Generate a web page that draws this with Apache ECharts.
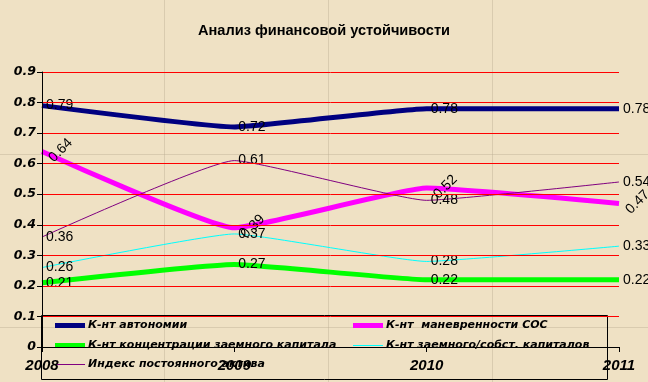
<!DOCTYPE html>
<html>
<head>
<meta charset="utf-8">
<script src="https://cdn.jsdelivr.net/npm/echarts@6/dist/echarts.min.js"></script>
<style>
html,body{margin:0;padding:0;background:#EFE1C4;}
#c{width:648px;height:382px;}
</style>
</head>
<body>
<div id="c"></div>
<script>
var years = ['2008', '2009', '2010', '2011'];
var yTicks = [0, 0.1, 0.2, 0.3, 0.4, 0.5, 0.6, 0.7, 0.8, 0.9];
var names = [
  'К-нт автономии',
  'К-нт  маневренности СОС',
  'К-нт концентрации заемного капитала',
  'К-нт заемного/собст. капиталов',
  'Индекс постоянного актива'
];
var autonomy = [0.79, 0.72, 0.78, 0.78];
var maneuver = [0.64, 0.39, 0.52, 0.47];
var concentration = [0.21, 0.27, 0.22, 0.22];
var debtEquity = [0.26, 0.37, 0.28, 0.33];
var fixedAssetIndex = [0.36, 0.61, 0.48, 0.54];

var colors = ['#000080', '#FF00FF', '#00FF00', '#00FFFF', '#800080'];
var widths = [5, 5, 5, 1, 1];
var datasets = [autonomy, maneuver, concentration, debtEquity, fixedAssetIndex];

var chart = echarts.init(document.getElementById('c'), null, {renderer: 'canvas'});

var series = datasets.map(function (d, i) {
  return {
    name: names[i],
    type: 'line',
    data: d,
    smooth: 0.12,
    symbol: 'circle',
    symbolSize: 2,
    z: 3,
    itemStyle: {color: 'rgba(0,0,0,0)'},
    lineStyle: {color: colors[i], width: widths[i]},
    emphasis: {disabled: true},
    label: {
      show: true,
      position: 'right',
      distance: i === 1 ? 8 : 3,
      rotate: i === 1 ? 45 : 0,
      offset: i === 1 ? [-6, 6] : [0, 0],
      color: '#000',
      fontFamily: 'Liberation Sans',
      fontSize: 14,
      formatter: function (p) { return p.value.toFixed(2); }
    }
  };
});

var legendPos = [
  {left: 55, top: 320},
  {left: 353, top: 320},
  {left: 55, top: 340},
  {left: 353, top: 340},
  {left: 55, top: 359}
];
var legends = names.map(function (n, i) {
  return {
    data: [n],
    left: legendPos[i].left,
    top: legendPos[i].top,
    orient: 'horizontal',
    icon: 'rect',
    itemWidth: 30,
    itemHeight: widths[i] === 5 ? 5 : 1,
    itemGap: 0,
    padding: 0,
    z: 1,
    selectedMode: false,
    itemStyle: {color: colors[i], borderWidth: 0},
    textStyle: {
      color: '#000',
      fontFamily: 'DejaVu Sans',
      fontWeight: 'bold',
      fontStyle: 'italic',
      fontSize: 11,
      padding: [0, 0, 0, -2]
    }
  };
});

var seam = 'rgba(185,170,145,0.4)';
var option = {
  backgroundColor: '#EFE1C4',
  animation: false,
  title: {
    text: 'Анализ финансовой устойчивости',
    left: 'center',
    top: 18,
    textStyle: {
      color: '#000',
      fontFamily: 'Liberation Sans',
      fontWeight: 'bold',
      fontSize: 14.6
    }
  },
  legend: legends,
  graphic: [
    {type: 'line', z: -1, silent: true, shape: {x1: 164.5, y1: 0, x2: 164.5, y2: 382}, style: {stroke: seam, lineWidth: 1}},
    {type: 'line', z: -1, silent: true, shape: {x1: 328.5, y1: 0, x2: 328.5, y2: 382}, style: {stroke: seam, lineWidth: 1}},
    {type: 'line', z: -1, silent: true, shape: {x1: 492.5, y1: 0, x2: 492.5, y2: 382}, style: {stroke: seam, lineWidth: 1}},
    {type: 'line', z: -1, silent: true, shape: {x1: 0, y1: 154.5, x2: 648, y2: 154.5}, style: {stroke: seam, lineWidth: 1}},
    {type: 'line', z: -1, silent: true, shape: {x1: 0, y1: 327.5, x2: 648, y2: 327.5}, style: {stroke: seam, lineWidth: 1}},
    {type: 'rect', z: 2, silent: true, shape: {x: 41.5, y: 315.5, width: 566, height: 64}, style: {fill: 'none', stroke: '#000', lineWidth: 1}}
  ],
  grid: {left: 42, right: 29, top: 72, bottom: 35, containLabel: false},
  xAxis: {
    type: 'category',
    data: years,
    boundaryGap: false,
    z: 5,
    axisLine: {show: true, lineStyle: {color: '#000', width: 1}},
    axisTick: {show: true, length: 5, lineStyle: {color: '#000'}},
    axisLabel: {
      color: '#000',
      fontFamily: 'Liberation Sans',
      fontWeight: 'bold',
      fontStyle: 'italic',
      fontSize: 15,
      margin: 11
    },
    splitLine: {show: false}
  },
  yAxis: {
    type: 'value',
    min: yTicks[0],
    max: yTicks[yTicks.length - 1],
    interval: 0.1,
    z: 5,
    axisLine: {show: true, lineStyle: {color: '#000', width: 1}},
    axisTick: {show: true, length: 5, lineStyle: {color: '#000'}},
    axisLabel: {
      color: '#000',
      fontFamily: 'DejaVu Sans',
      fontWeight: 'bold',
      fontStyle: 'italic',
      fontSize: 12.5,
      margin: 6,
      formatter: function (v) {
        var r = Math.round(v * 10) / 10;
        return r === 0 ? '0' : r.toFixed(1);
      }
    },
    splitLine: {show: true, lineStyle: {color: '#FF0000', width: 1}}
  },
  series: series
};
chart.setOption(option);
</script>
</body>
</html>
